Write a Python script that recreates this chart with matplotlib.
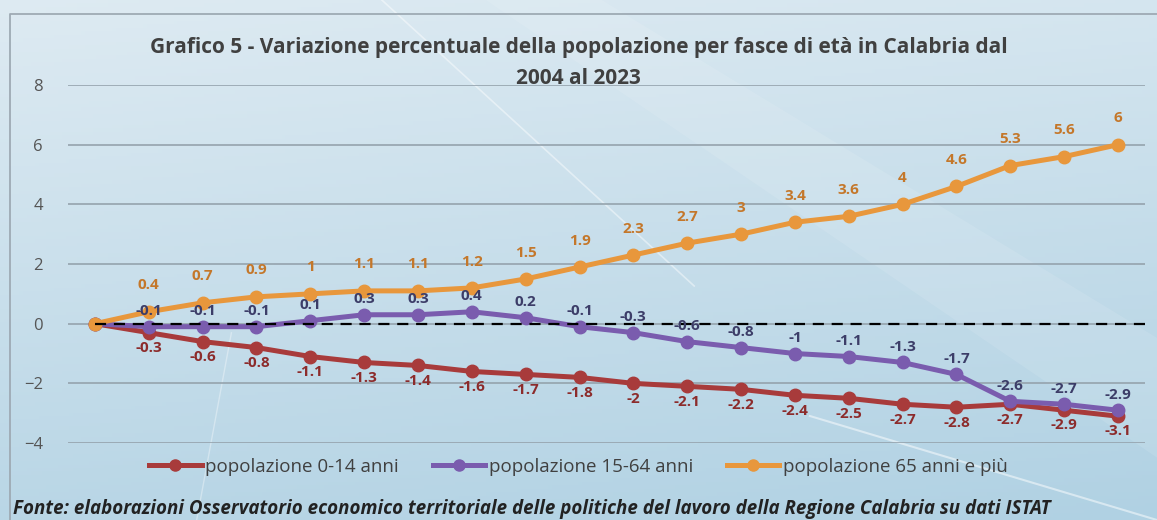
import numpy as np
import matplotlib.pyplot as plt
from matplotlib.lines import Line2D

# Data: percentage change vs 2004, Calabria, 2004-2023
years = list(range(2004, 2024))
pop_0_14 = [0, -0.3, -0.6, -0.8, -1.1, -1.3, -1.4, -1.6, -1.7, -1.8,
            -2, -2.1, -2.2, -2.4, -2.5, -2.7, -2.8, -2.7, -2.9, -3.1]
pop_15_64 = [0, -0.1, -0.1, -0.1, 0.1, 0.3, 0.3, 0.4, 0.2, -0.1,
             -0.3, -0.6, -0.8, -1, -1.1, -1.3, -1.7, -2.6, -2.7, -2.9]
pop_65 = [0, 0.4, 0.7, 0.9, 1, 1.1, 1.1, 1.2, 1.5, 1.9,
          2.3, 2.7, 3, 3.4, 3.6, 4, 4.6, 5.3, 5.6, 6]
series_names = ['popolazione 0-14 anni', 'popolazione 15-64 anni', 'popolazione 65 anni e più']
y_ticks = [-4, -2, 0, 2, 4, 6, 8]

line_colors = ['#a83b3b', '#7a5cae', '#e8973c']
label_colors = ['#8c2b2b', '#3c3d68', '#c4772a']
label_offsets = [-11, 11, 19]  # points, below / above / above

plt.rcParams['font.family'] = ['Open Sans', 'DejaVu Sans']

fig = plt.figure(figsize=(11.57, 5.2), dpi=100)

# background gradient with a few light streaks
bg = fig.add_axes([0, 0, 1, 1], zorder=-10)
gx, gy = np.meshgrid(np.linspace(0, 1, 300), np.linspace(0, 1, 150))
t = np.clip(0.2 * gx + 0.8 * gy, 0, 1)
c0 = np.array([0.87, 0.92, 0.95])
c1 = np.array([0.69, 0.82, 0.89])
img = c0[None, None, :] * (1 - t[..., None]) + c1[None, None, :] * t[..., None]
bg.imshow(img, extent=[0, 1, 0, 1], origin='upper', aspect='auto')
bg.fill([0.42, 0.52, 1.0, 1.0], [1.0, 1.0, 0.35, 0.12], color='white', alpha=0.10, lw=0)
bg.plot([0.33, 0.60], [1.0, 0.45], color='white', alpha=0.45, lw=1.2)
bg.plot([0.70, 1.0], [0.2, 0.0], color='white', alpha=0.5, lw=1.5)
bg.plot([0.17, 0.20], [0.0, 0.36], color='white', alpha=0.35, lw=1.0)
bg.plot([0.0087, 0.0087, 1.01], [-0.01, 0.973, 0.973], color='#9eaab4', lw=1.3)
bg.set_xlim(0, 1)
bg.set_ylim(0, 1)
bg.axis('off')

ax = fig.add_axes([0.0588, 0.148, 0.9307, 0.6885])
ax.set_facecolor('none')
x = np.arange(len(years))

all_series = [pop_0_14, pop_15_64, pop_65]
for vals, name, lc, tc, off in zip(all_series, series_names, line_colors, label_colors, label_offsets):
    ax.plot(x, vals, color=lc, lw=3.6, marker='o', ms=9, label=name, zorder=3)
    for xi, v in zip(x, vals):
        if xi == 0:
            continue
        ax.annotate(f'{v:g}', (xi, v), xytext=(0, off), textcoords='offset points',
                    ha='center', va='center', fontsize=11, fontweight='bold',
                    color=tc, zorder=6)

ax.hlines(0, 0, 19.5, colors='black', linestyles=(0, (5, 3.5)), lw=1.6, zorder=4)

ax.set_xlim(-0.5, 19.5)
ax.set_ylim(-4, 8)
ax.set_yticks(y_ticks)
ax.set_xticks([])
ax.grid(axis='y', color='#95a3ad', lw=1.2)
ax.set_axisbelow(True)
for s in ax.spines.values():
    s.set_visible(False)
ax.tick_params(axis='y', length=0, pad=18, labelsize=12, labelcolor='#555555')

fig.text(0.5, 0.908, 'Grafico 5 - Variazione percentuale della popolazione per fasce di età in Calabria dal',
         ha='center', va='center', fontsize=15, fontweight='bold', color='#404040')
fig.text(0.5, 0.850, '2004 al 2023', ha='center', va='center', fontsize=15,
         fontweight='bold', color='#404040')

handles = [Line2D([], [], color=c, lw=3.6, marker='o', ms=8) for c in line_colors]
fig.legend(handles, series_names, loc='center', bbox_to_anchor=(0.5, 0.102), ncol=3,
           frameon=False, fontsize=13.5, handlelength=2.8, handletextpad=0.2,
           columnspacing=1.8, labelcolor='#404040')

fig.text(0.011, 0.022, 'Fonte: elaborazioni Osservatorio economico territoriale delle politiche del lavoro della Regione Calabria su dati ISTAT',
         ha='left', va='center', fontsize=13.5, fontweight='bold', style='italic', color='#222222')

fig.savefig('out.png', dpi=100)
